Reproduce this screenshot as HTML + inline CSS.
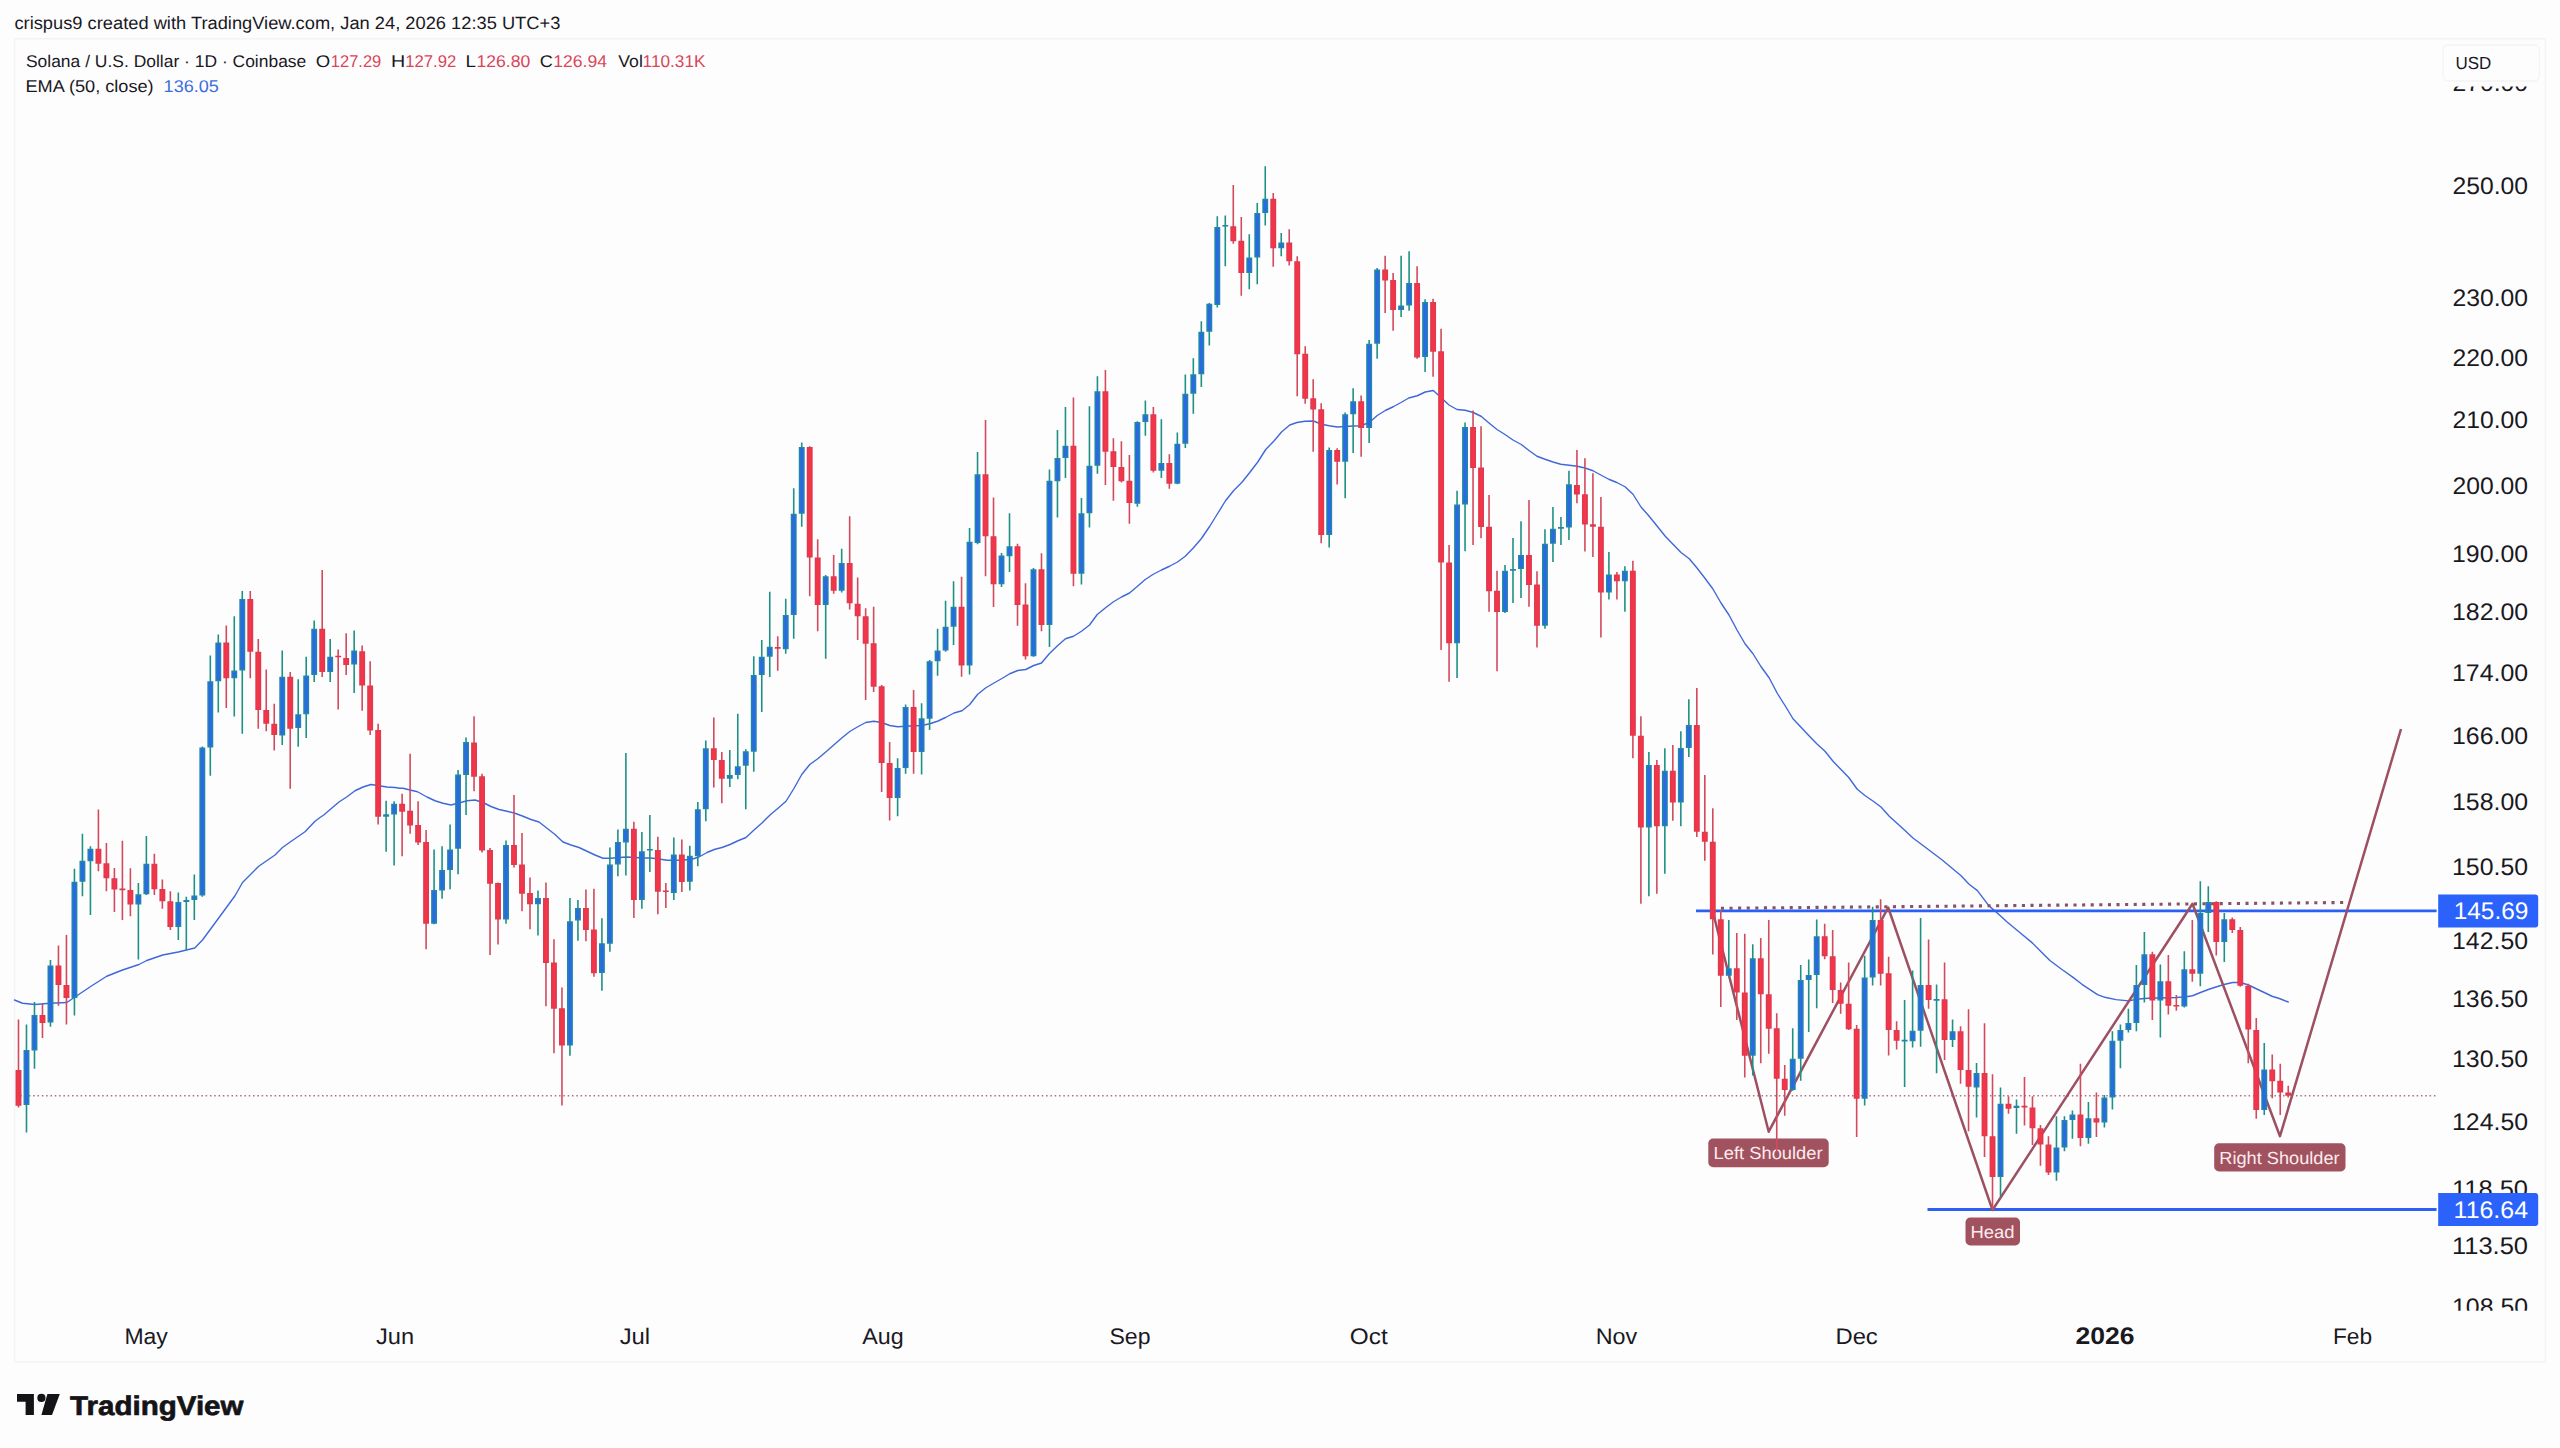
<!DOCTYPE html>
<html lang="en">
<head>
<meta charset="utf-8">
<title>SOLUSD chart - TradingView</title>
<style>
html,body{margin:0;padding:0;background:#fefdfe;}
body{width:2560px;height:1448px;overflow:hidden;font-family:"Liberation Sans",sans-serif;}
svg text{font-family:"Liberation Sans",sans-serif;white-space:pre;text-rendering:geometricPrecision;}
</style>
</head>
<body>
<svg width="2560" height="1448" viewBox="0 0 2560 1448" style="display:block" font-family="'Liberation Sans', sans-serif">
<defs><clipPath id="axclip"><rect x="2440" y="86.5" width="110" height="1224.3"/></clipPath></defs>
<rect x="0" y="0" width="2560" height="1448" fill="#fefdfe"/>
<rect x="14.6" y="38.8" width="2530.7" height="1323" fill="none" stroke="#f4f3f8" stroke-width="1.6"/>
<path d="M16 1095.7H2436" stroke="#ab6f80" stroke-width="1.5" stroke-dasharray="1.5 2.81" fill="none"/>
<g>
<path d="M14.5 1000 L22.5 1003.25 L35 1004.5 L50 1003.25 L66.75 1002.5 L75 997 L91 986.25 L106.75 976.25 L122.5 970 L139 964.5 L146.75 960.5 L162.75 955 L178.25 952 L194.75 948 L202.5 940 L220 916.25 L235 895.75 L242.5 882.5 L258.75 866.25 L275 855 L282.5 847.5 L291.25 841.25 L305 831.75 L315 821.25 L320 817.5 L323.75 815 L331 808.75 L339 802 L347 796.75 L355 790.75 L363 787 L371 784.5 L379 785.75 L387 787 L395 787.5 L400 788.25 L403 788.25 L410 790 L417.5 791.75 L427 797 L435 800.75 L443 803.25 L451 805 L459 803 L467 800.75 L475 800 L483 802.5 L491 806.5 L499 809.5 L507 811.25 L515 813.25 L523 816.25 L531 819.5 L539 822 L547 828.25 L555 834.5 L563 842 L571 845 L579 847.5 L587 851.25 L595 855 L603 858.25 L611 858.25 L619 857.5 L627 857 L635 857.5 L643 858 L651 858 L659 859 L667 860.25 L675 860.25 L683 860 L691 859.5 L699 857 L707 852.5 L715 849.25 L722 847.5 L730 844.5 L738 840.75 L746 837.5 L754 830 L762 823 L770 815 L778 808.25 L786 801.25 L793.75 788.75 L801.75 774.5 L809.75 764.5 L817.75 758.75 L825.75 752 L833.75 745 L841.75 738 L849.75 731.5 L857.75 726.75 L865.75 722.5 L873.75 721.25 L881.75 722.5 L889.75 725.5 L897.75 726.75 L905.75 726.25 L913.75 725.75 L921.75 725.5 L929.75 723.75 L937.5 721.25 L945.5 717.5 L954 713 L962 710.75 L969.75 704.5 L977.5 694.5 L985.5 688 L993.5 683.25 L1001.5 678.75 L1009.75 673.75 L1017.75 670.5 L1025.75 669.5 L1033.75 665.5 L1041.5 663 L1049.25 653.75 L1057.5 645.75 L1065.5 638.75 L1073.5 636.25 L1081.5 631.25 L1089.5 625 L1097.25 614.5 L1105.25 608 L1113.5 601.75 L1121.5 597 L1129.5 593 L1137.5 586.25 L1145.25 579.5 L1153.25 574.25 L1161.5 570 L1169.5 566.25 L1177.5 562 L1185.25 556.25 L1193.25 548 L1201.25 538.75 L1209.75 526.25 L1217.5 513.75 L1225.5 500.75 L1233.75 490.5 L1241.75 482.5 L1249.75 472.5 L1257.75 462 L1265.75 449.5 L1273.75 441.25 L1281.5 432 L1289.75 425 L1297 422.5 L1305 421.25 L1313.5 421 L1321.5 424.25 L1329.25 425.75 L1337.25 427 L1345 426.5 L1353 426 L1360.75 425.75 L1369.25 422.5 L1377.25 415.5 L1385.25 410.5 L1393.25 406.75 L1401 402.5 L1408.75 398 L1417.25 395.75 L1425.25 392 L1433.25 390.5 L1441 397.5 L1449 405 L1457 409.5 L1465.25 410.25 L1473.25 412.5 L1481 416.25 L1489 423 L1497 429.5 L1505 434.5 L1513 440 L1521.25 444.5 L1529 450.5 L1537 456.25 L1545 459.25 L1553 462 L1560.75 464.25 L1569.25 465.25 L1577.25 466.25 L1585 468 L1593 470.75 L1600.75 475 L1608.75 479.25 L1616.75 482.5 L1625 486.75 L1633 494.25 L1641 507 L1648.75 515.75 L1657.25 526.25 L1665.25 536.25 L1673.25 544.5 L1681 552.5 L1689.25 558.75 L1697 568 L1704.75 578 L1712.75 588.75 L1721 603 L1729 615 L1737 630 L1745 643.75 L1753 653.75 L1760.75 666.25 L1769.25 678 L1777.25 693.25 L1785 705.5 L1793 718.75 L1800.75 727 L1808.75 735.5 L1816.75 743.75 L1825 751.25 L1833 761.25 L1841 769.5 L1848.75 777.5 L1857.25 789.25 L1865.25 795.75 L1873.25 801.25 L1881 807 L1889.25 816.25 L1897 823.25 L1905.25 830.75 L1913.25 838.25 L1920 843.25 L1942.2 860 L1960.8 875.5 L1969.1 884.3 L1977.4 890.6 L1988.8 905.6 L1997 912.8 L2007.4 922.2 L2019.8 932.5 L2032.3 942.9 L2041.6 952.2 L2049.9 960.5 L2062.3 969.8 L2072.7 977.1 L2082 984.3 L2097.5 994.7 L2104.8 997.3 L2116 999.6 L2128.6 1000.9 L2136.75 999.25 L2144.5 998.5 L2152.25 998 L2160.25 998 L2168 997.75 L2176 997.5 L2184.5 997 L2192.5 995.75 L2200.5 992.5 L2208.25 989.5 L2216 987 L2224 984.5 L2232.5 982.5 L2240.5 982.5 L2248.5 985 L2256.25 988.75 L2264.25 992.5 L2272 996.25 L2280 998.75 L2288.25 1002" stroke="#3f68d8" stroke-width="1.4" fill="none" stroke-linejoin="round" stroke-linecap="round"/>

<path d="M1720.9 908.3L2343.3 902.5" stroke="#8a5163" stroke-width="3.1" stroke-dasharray="3.1 5.5" fill="none"/>
<path d="M1696 910.9H2436.6" stroke="#2b61f2" stroke-width="2.9" fill="none"/>
<path d="M1927.5 1209.5H2436.6" stroke="#2b61f2" stroke-width="2.9" fill="none"/>
<path d="M1712.7 911.2L1768.7 1131.7L1888.2 907.5L1992.5 1210L2192.5 903.7L2280 1136.2L2401 729" stroke="#9d5061" stroke-width="2.5" fill="none" stroke-linejoin="round" stroke-linecap="butt"/>
<rect x="1708.3" y="1138.5" width="120.4" height="28.7" rx="4.8" ry="4.8" fill="#a1525f"/>
<rect x="2214.2" y="1143.3" width="131.3" height="28.2" rx="4.8" ry="4.8" fill="#a1525f"/>
<rect x="1965.5" y="1217.5" width="54.5" height="28" rx="4.8" ry="4.8" fill="#a1525f"/>
<text x="1713.57" y="1159.15" font-size="17.5" fill="#fdebee" textLength="109.02" lengthAdjust="spacingAndGlyphs">Left Shoulder</text>
<text x="2219.33" y="1163.7" font-size="17.5" fill="#fdebee" textLength="120.26" lengthAdjust="spacingAndGlyphs">Right Shoulder</text>
<text x="1970.46" y="1237.8" font-size="17.5" fill="#fdebee" textLength="44.18" lengthAdjust="spacingAndGlyphs">Head</text>
<path d="M18.5 1019.5V1107.5M42.48 1003.75V1038M58.46 945.5V1005.75M66.45 935V1024.5M98.42 809.5V871.25M106.41 843V891.25M114.4 868V912M122.4 840.75V920M130.39 868.25V916.25M154.36 853.75V895M162.36 879.5V908.75M170.35 891.25V930M226.29 625.5V708M250.27 591V678.25M258.26 639V728.75M266.25 669.5V731.25M274.24 703.75V750.5M290.23 672V788.75M322.2 570V677M338.18 649.5V709.5M346.17 633.25V675M362.16 645.5V710.75M370.15 661.25V735M378.14 723.75V824.5M402.12 793.75V856.25M410.11 753.75V833.75M418.1 801.25V845M426.09 830V949.25M474.04 716.25V791.25M482.04 773.75V852.5M490.03 848V955M498.02 882.5V944.5M514 795V867.5M522 833V911.25M529.99 877.5V929.25M545.97 882.5V1006.25M553.96 939.25V1053.25M561.96 987.5V1105.5M585.93 889.5V941.25M593.92 888.75V976.75M633.88 821.75V918M657.86 836.75V914.25M665.85 883V908M681.84 839.5V892M713.8 717.5V787.5M721.8 752V803.25M777.74 636.25V670.75M809.71 446.25V596.25M817.7 539.25V631.25M833.68 555V593.75M849.67 516.25V609.5M857.66 577.5V640M865.65 608.25V700M873.64 606.75V692M881.64 685V792M889.63 742V820.5M913.6 690V773.75M961.56 576.75V676.75M985.53 420V576.25M993.52 497.5V607M1017.5 543.75V625.75M1025.49 583.25V659.5M1041.48 553.25V631.25M1073.44 397.5V586.25M1105.41 370V485M1113.4 438.25V500.75M1121.4 441.25V482.5M1129.39 455V523.75M1153.36 407V472.5M1169.35 454.25V488.75M1233.28 185V243.75M1241.28 217V295.75M1273.24 193V266.75M1289.23 229.25V265.5M1297.22 256.25V396.25M1305.21 346.25V403.75M1313.2 379.25V451.75M1321.2 403.25V543.25M1337.18 448.25V484.5M1361.16 395.5V456.75M1385.13 255.75V313M1393.12 273V330.75M1417.1 266.25V358.75M1433.08 298.75V376.75M1441.08 328.75V650M1449.07 545V681.75M1473.04 410.5V545M1481.04 426.25V538.25M1489.03 495V611.75M1497.02 570.75V671.25M1528.99 500V606.75M1536.98 571.25V647.5M1576.94 450V503.25M1584.93 458.25V551.5M1592.92 473.25V557M1600.92 497V637.5M1616.9 572V599.5M1632.88 560.75V758.25M1640.88 716.25V903.75M1656.86 760V893.75M1672.84 745V820.75M1696.82 688V837M1704.81 775V860.75M1712.8 808.25V954.5M1720.8 910V1007M1736.78 933V1020M1744.77 933.75V1077.5M1760.76 938V1063.25M1768.75 920V1053.75M1776.74 1013.25V1151.25M1784.73 1065V1115.75M1824.69 923.75V959.25M1832.68 930V1003M1840.68 982.5V1013.75M1848.67 962.5V1030M1856.66 1025V1137M1880.64 899.25V985.5M1888.63 956.75V1055.5M1896.62 1021.25V1049.5M1928.59 939.5V1008.75M1944.57 962.5V1060M1960.56 1026.25V1083.75M1968.55 1009.25V1131.25M1984.53 1023.25V1157M1992.52 1074.25V1210M2008.51 1096.25V1113.75M2024.49 1077V1125.5M2032.48 1096.25V1145M2040.48 1125V1165.75M2048.47 1136.25V1175M2080.44 1063.75V1146.25M2096.42 1092.5V1137M2152.36 951.75V1020M2168.35 955V1014.5M2176.34 995V1010.75M2192.32 920V981.75M2216.3 901.25V955.5M2232.28 917.5V933M2240.28 927V986.75M2248.27 983.75V1063.25M2256.26 1018V1118.75M2272.24 1054.5V1098.25M2280.24 1063.75V1115M2288.23 1085.75V1097.5" stroke="#d24a5e" stroke-width="1.6" fill="none"/>
<path d="M26.49 1024.5V1132.5M34.48 1002V1068.75M50.47 960V1026.75M74.44 868.75V1015.5M82.44 833.75V896.25M90.43 846.25V915M138.38 883V959.5M146.37 836V895M178.34 892.5V940M186.33 896.75V950M194.32 874.5V920M202.32 746.5V896.75M210.31 655.5V775.75M218.3 634.5V712.5M234.28 616.25V716.5M242.28 591V733.75M282.24 650.5V745M298.22 679.25V746.75M306.21 656.75V738M314.2 620.5V682M330.19 639V682M354.16 630.5V693M386.13 800.75V851.75M394.12 801.25V865.5M434.08 849.5V924.25M442.08 846.25V898.75M450.07 824.5V889.25M458.06 770V874.25M466.05 737.5V815M506.01 840.5V923.75M537.98 890.5V935.5M569.95 898V1055.75M577.94 900V940.75M601.92 918.25V990.75M609.91 847.5V951.75M617.9 829.5V876.25M625.89 753V875.5M641.88 832V908.75M649.87 815V872M673.84 837.5V900M689.83 845.75V890.5M697.82 802V866.25M705.81 740.5V821.25M729.79 750V787M737.78 713.75V779.25M745.77 749.25V809.25M753.76 656.25V771.75M761.76 640V712M769.75 591.75V677M785.73 598.75V653.75M793.72 488.25V638.75M801.72 442.5V526.75M825.69 575V658.75M841.68 548.75V592.5M897.62 758.25V816.25M905.61 704.5V773.75M921.6 703.25V774.5M929.59 660V730M937.58 628.75V675.75M945.57 600.75V651.75M953.56 581.25V645M969.55 528V674.5M977.54 452V544.25M1001.52 553V587M1009.51 513.25V572M1033.48 568V656.75M1049.47 469.5V647M1057.46 430V517.5M1065.45 407V478M1081.44 498V584.5M1089.43 406.25V527.5M1097.42 376.25V473.75M1137.38 421.25V506.75M1145.37 400.5V435.75M1161.36 419.25V478M1177.34 432.5V484.25M1185.33 374.5V448M1193.32 358.25V413.75M1201.32 321.25V387M1209.31 303V345.5M1217.3 216.25V307.5M1225.29 215.5V266.25M1249.27 234.25V289.25M1257.26 203V284.25M1265.25 166.25V225.5M1281.24 233V256.25M1329.19 447.5V547.5M1345.17 412.5V498.25M1353.16 388.25V453M1369.15 340V443M1377.14 268V358.75M1401.12 255.75V317M1409.11 251.25V310.75M1425.09 299.25V372M1457.06 490.75V678M1465.05 422.5V551.25M1505.01 565V613M1513 538V603M1521 521.25V598M1544.97 529.25V628.75M1552.96 507V562M1560.96 517V545M1568.95 470.75V540M1608.91 552V599.5M1624.89 566.25V611.75M1648.87 752V896.25M1664.85 748.25V873.75M1680.84 731.25V826.25M1688.83 699.25V757M1728.79 920V977.5M1752.76 944.25V1075.5M1792.72 1028.25V1090.75M1800.72 965V1080.75M1808.71 959.5V1032M1816.7 919.5V1008.25M1864.65 955.75V1105.5M1872.64 906.75V985.5M1904.61 1000V1087M1912.6 970.5V1047.5M1920.6 918V1046.75M1936.58 984.5V1073.25M1952.56 1019.5V1047M1976.54 1063V1117.5M2000.52 1087.5V1196.25M2016.5 1099.5V1133.75M2056.46 1116.25V1180.75M2064.45 1116.25V1151.25M2072.44 1110.5V1138.75M2088.43 1102V1143.75M2104.41 1095V1127.5M2112.4 1031.25V1109.5M2120.4 1024.5V1068.25M2128.39 1008.75V1032.5M2136.38 965V1031.25M2144.37 932V1002.5M2160.36 964.5V1037.5M2184.33 951.25V1007.5M2200.32 881.25V986.25M2208.31 886.25V932M2224.29 913V962M2264.25 1043V1115" stroke="#1f9184" stroke-width="1.6" fill="none"/>
<path d="M15.55 1070h5.9V1105.75h-5.9zM39.53 1015h5.9V1023h-5.9zM55.51 965.5h5.9V985h-5.9zM63.5 985h5.9V998h-5.9zM95.47 848.75h5.9V863.75h-5.9zM103.46 863.25h5.9V878.25h-5.9zM111.45 878.25h5.9V889.5h-5.9zM119.45 888.58h5.9V890.17h-5.9zM127.44 890h5.9V904.5h-5.9zM151.41 863.75h5.9V889.25h-5.9zM159.41 889h5.9V901.25h-5.9zM167.4 901.25h5.9V927h-5.9zM223.34 642.5h5.9V678.25h-5.9zM247.32 599h5.9V651.75h-5.9zM255.31 651.75h5.9V710h-5.9zM263.3 710h5.9V723.75h-5.9zM271.29 723.75h5.9V735h-5.9zM287.28 676.75h5.9V728.75h-5.9zM319.25 628.75h5.9V672h-5.9zM335.23 655.7h5.9V657.3h-5.9zM343.22 658h5.9V665h-5.9zM359.21 651.25h5.9V685.5h-5.9zM367.2 685.5h5.9V730.5h-5.9zM375.19 730h5.9V816.75h-5.9zM399.17 803.75h5.9V811.75h-5.9zM407.16 810.75h5.9V825.5h-5.9zM415.15 825h5.9V842.5h-5.9zM423.14 842h5.9V923.75h-5.9zM471.09 742.5h5.9V776.75h-5.9zM479.09 776.25h5.9V850.5h-5.9zM487.08 850h5.9V883.75h-5.9zM495.07 883h5.9V919.5h-5.9zM511.05 845h5.9V865h-5.9zM519.05 864.5h5.9V893.75h-5.9zM527.04 893h5.9V904.25h-5.9zM543.02 898h5.9V963h-5.9zM551.01 962.5h5.9V1008.75h-5.9zM559.01 1008.25h5.9V1045.5h-5.9zM582.98 908h5.9V930h-5.9zM590.97 929.5h5.9V973.25h-5.9zM630.93 828.75h5.9V900h-5.9zM654.91 850h5.9V891.75h-5.9zM662.9 890.45h5.9V892.05h-5.9zM678.89 854.5h5.9V882h-5.9zM710.85 748.25h5.9V760h-5.9zM718.85 760h5.9V778.75h-5.9zM774.79 647h5.9V648.75h-5.9zM806.76 447h5.9V557.5h-5.9zM814.75 557.5h5.9V605h-5.9zM830.73 576.25h5.9V590.75h-5.9zM846.72 563h5.9V603.25h-5.9zM854.71 603.75h5.9V616.25h-5.9zM862.7 616.25h5.9V643.75h-5.9zM870.69 643.25h5.9V686.75h-5.9zM878.69 686.25h5.9V763h-5.9zM886.68 763h5.9V798h-5.9zM910.65 707h5.9V752h-5.9zM958.61 606.75h5.9V665.5h-5.9zM982.58 474.25h5.9V536.25h-5.9zM990.57 536.25h5.9V584.25h-5.9zM1014.55 546.25h5.9V605h-5.9zM1022.54 604.5h5.9V656.25h-5.9zM1038.53 569.25h5.9V625h-5.9zM1070.49 445.75h5.9V573.75h-5.9zM1102.46 391.25h5.9V451.75h-5.9zM1110.45 451.25h5.9V467h-5.9zM1118.45 467h5.9V481.25h-5.9zM1126.44 480.75h5.9V503h-5.9zM1150.41 414.25h5.9V470.75h-5.9zM1166.4 463h5.9V483.75h-5.9zM1230.33 226.25h5.9V241.25h-5.9zM1238.33 240.75h5.9V273h-5.9zM1270.29 198.75h5.9V248.25h-5.9zM1286.28 242.5h5.9V261.25h-5.9zM1294.27 261.25h5.9V354.25h-5.9zM1302.26 353.75h5.9V398.75h-5.9zM1310.25 398.25h5.9V409.5h-5.9zM1318.25 409.25h5.9V535h-5.9zM1334.23 450h5.9V461.75h-5.9zM1358.21 401.25h5.9V428h-5.9zM1382.18 269.5h5.9V280.5h-5.9zM1390.17 280h5.9V310h-5.9zM1414.15 283h5.9V357.5h-5.9zM1430.13 302h5.9V351.75h-5.9zM1438.13 351.25h5.9V562.5h-5.9zM1446.12 562.5h5.9V643.25h-5.9zM1470.09 427h5.9V468h-5.9zM1478.09 467.5h5.9V527h-5.9zM1486.08 526.75h5.9V591.25h-5.9zM1494.07 590.75h5.9V612h-5.9zM1526.04 555h5.9V585h-5.9zM1534.03 584.5h5.9V625.75h-5.9zM1573.99 485h5.9V494.5h-5.9zM1581.98 494.25h5.9V524.5h-5.9zM1589.97 524.25h5.9V526.75h-5.9zM1597.97 526.75h5.9V592.5h-5.9zM1613.95 574.5h5.9V581.25h-5.9zM1629.93 570.75h5.9V735.75h-5.9zM1637.93 735.75h5.9V827.5h-5.9zM1653.91 765h5.9V826.25h-5.9zM1669.89 770.75h5.9V802.5h-5.9zM1693.87 725h5.9V831.75h-5.9zM1701.86 831.75h5.9V841.75h-5.9zM1709.85 841.75h5.9V919.25h-5.9zM1717.85 919.25h5.9V975.75h-5.9zM1733.83 968.25h5.9V992.5h-5.9zM1741.82 992.5h5.9V1055.75h-5.9zM1757.81 958.25h5.9V994.25h-5.9zM1765.8 994.25h5.9V1028.75h-5.9zM1773.79 1028.25h5.9V1078.75h-5.9zM1781.78 1078.75h5.9V1090h-5.9zM1821.74 936.25h5.9V956.25h-5.9zM1829.73 956.25h5.9V990h-5.9zM1837.73 990h5.9V1003.75h-5.9zM1845.72 1003.75h5.9V1029.25h-5.9zM1853.71 1028.75h5.9V1098.75h-5.9zM1877.69 920h5.9V973.75h-5.9zM1885.68 973.25h5.9V1030h-5.9zM1893.67 1030h5.9V1040.75h-5.9zM1925.64 985h5.9V1000h-5.9zM1941.62 999.25h5.9V1040h-5.9zM1957.61 1031.25h5.9V1070h-5.9zM1965.6 1070h5.9V1086.75h-5.9zM1981.58 1073h5.9V1136.25h-5.9zM1989.57 1136.25h5.9V1177h-5.9zM2005.56 1103.75h5.9V1108.75h-5.9zM2021.54 1105.75h5.9V1107.5h-5.9zM2029.53 1107.5h5.9V1128.25h-5.9zM2037.53 1128.25h5.9V1144.5h-5.9zM2045.52 1144.5h5.9V1172.5h-5.9zM2077.49 1114.5h5.9V1138h-5.9zM2093.47 1118.25h5.9V1122.5h-5.9zM2149.41 954.25h5.9V1000.5h-5.9zM2165.4 981.25h5.9V1005.75h-5.9zM2173.39 1004.95h5.9V1006.55h-5.9zM2189.37 969.25h5.9V973.75h-5.9zM2213.35 902h5.9V942h-5.9zM2229.33 919.25h5.9V930h-5.9zM2237.33 930h5.9V985.75h-5.9zM2245.32 985.75h5.9V1029.5h-5.9zM2253.31 1030h5.9V1110h-5.9zM2269.29 1069.5h5.9V1081.25h-5.9zM2277.29 1080.75h5.9V1092.5h-5.9zM2285.28 1092.5h5.9V1095.75h-5.9z" fill="#de3a4f"/>
<path d="M16.8 1071.2h3.4V1104.55h-3.4zM40.78 1016.2h3.4V1021.8h-3.4zM56.76 966.7h3.4V983.8h-3.4zM64.75 986.2h3.4V996.8h-3.4zM96.72 849.95h3.4V862.55h-3.4zM104.71 864.45h3.4V877.05h-3.4zM112.7 879.45h3.4V888.3h-3.4zM128.69 891.2h3.4V903.3h-3.4zM152.66 864.95h3.4V888.05h-3.4zM160.66 890.2h3.4V900.05h-3.4zM168.65 902.45h3.4V925.8h-3.4zM224.59 643.7h3.4V677.05h-3.4zM248.57 600.2h3.4V650.55h-3.4zM256.56 652.95h3.4V708.8h-3.4zM264.55 711.2h3.4V722.55h-3.4zM272.54 724.95h3.4V733.8h-3.4zM288.53 677.95h3.4V727.55h-3.4zM320.5 629.95h3.4V670.8h-3.4zM344.47 659.2h3.4V663.8h-3.4zM360.46 652.45h3.4V684.3h-3.4zM368.45 686.7h3.4V729.3h-3.4zM376.44 731.2h3.4V815.55h-3.4zM400.42 804.95h3.4V810.55h-3.4zM408.41 811.95h3.4V824.3h-3.4zM416.4 826.2h3.4V841.3h-3.4zM424.39 843.2h3.4V922.55h-3.4zM472.34 743.7h3.4V775.55h-3.4zM480.34 777.45h3.4V849.3h-3.4zM488.33 851.2h3.4V882.55h-3.4zM496.32 884.2h3.4V918.3h-3.4zM512.3 846.2h3.4V863.8h-3.4zM520.3 865.7h3.4V892.55h-3.4zM528.29 894.2h3.4V903.05h-3.4zM544.27 899.2h3.4V961.8h-3.4zM552.26 963.7h3.4V1007.55h-3.4zM560.26 1009.45h3.4V1044.3h-3.4zM584.23 909.2h3.4V928.8h-3.4zM592.22 930.7h3.4V972.05h-3.4zM632.18 829.95h3.4V898.8h-3.4zM656.16 851.2h3.4V890.55h-3.4zM680.14 855.7h3.4V880.8h-3.4zM712.1 749.45h3.4V758.8h-3.4zM720.1 761.2h3.4V777.55h-3.4zM808.01 448.2h3.4V556.3h-3.4zM816 558.7h3.4V603.8h-3.4zM831.98 577.45h3.4V589.55h-3.4zM847.97 564.2h3.4V602.05h-3.4zM855.96 604.95h3.4V615.05h-3.4zM863.95 617.45h3.4V642.55h-3.4zM871.94 644.45h3.4V685.55h-3.4zM879.94 687.45h3.4V761.8h-3.4zM887.93 764.2h3.4V796.8h-3.4zM911.9 708.2h3.4V750.8h-3.4zM959.86 607.95h3.4V664.3h-3.4zM983.83 475.45h3.4V535.05h-3.4zM991.82 537.45h3.4V583.05h-3.4zM1015.8 547.45h3.4V603.8h-3.4zM1023.79 605.7h3.4V655.05h-3.4zM1039.78 570.45h3.4V623.8h-3.4zM1071.74 446.95h3.4V572.55h-3.4zM1103.71 392.45h3.4V450.55h-3.4zM1111.7 452.45h3.4V465.8h-3.4zM1119.7 468.2h3.4V480.05h-3.4zM1127.69 481.95h3.4V501.8h-3.4zM1151.66 415.45h3.4V469.55h-3.4zM1167.65 464.2h3.4V482.55h-3.4zM1231.58 227.45h3.4V240.05h-3.4zM1239.58 241.95h3.4V271.8h-3.4zM1271.54 199.95h3.4V247.05h-3.4zM1287.53 243.7h3.4V260.05h-3.4zM1295.52 262.45h3.4V353.05h-3.4zM1303.51 354.95h3.4V397.55h-3.4zM1311.5 399.45h3.4V408.3h-3.4zM1319.5 410.45h3.4V533.8h-3.4zM1335.48 451.2h3.4V460.55h-3.4zM1359.46 402.45h3.4V426.8h-3.4zM1383.43 270.7h3.4V279.3h-3.4zM1391.42 281.2h3.4V308.8h-3.4zM1415.4 284.2h3.4V356.3h-3.4zM1431.38 303.2h3.4V350.55h-3.4zM1439.38 352.45h3.4V561.3h-3.4zM1447.37 563.7h3.4V642.05h-3.4zM1471.34 428.2h3.4V466.8h-3.4zM1479.34 468.7h3.4V525.8h-3.4zM1487.33 527.95h3.4V590.05h-3.4zM1495.32 591.95h3.4V610.8h-3.4zM1527.29 556.2h3.4V583.8h-3.4zM1535.28 585.7h3.4V624.55h-3.4zM1575.24 486.2h3.4V493.3h-3.4zM1583.23 495.45h3.4V523.3h-3.4zM1599.22 527.95h3.4V591.3h-3.4zM1615.2 575.7h3.4V580.05h-3.4zM1631.18 571.95h3.4V734.55h-3.4zM1639.18 736.95h3.4V826.3h-3.4zM1655.16 766.2h3.4V825.05h-3.4zM1671.14 771.95h3.4V801.3h-3.4zM1695.12 726.2h3.4V830.55h-3.4zM1703.11 832.95h3.4V840.55h-3.4zM1711.1 842.95h3.4V918.05h-3.4zM1719.1 920.45h3.4V974.55h-3.4zM1735.08 969.45h3.4V991.3h-3.4zM1743.07 993.7h3.4V1054.55h-3.4zM1759.06 959.45h3.4V993.05h-3.4zM1767.05 995.45h3.4V1027.55h-3.4zM1775.04 1029.45h3.4V1077.55h-3.4zM1783.03 1079.95h3.4V1088.8h-3.4zM1822.99 937.45h3.4V955.05h-3.4zM1830.98 957.45h3.4V988.8h-3.4zM1838.98 991.2h3.4V1002.55h-3.4zM1846.97 1004.95h3.4V1028.05h-3.4zM1854.96 1029.95h3.4V1097.55h-3.4zM1878.94 921.2h3.4V972.55h-3.4zM1886.93 974.45h3.4V1028.8h-3.4zM1894.92 1031.2h3.4V1039.55h-3.4zM1926.89 986.2h3.4V998.8h-3.4zM1942.87 1000.45h3.4V1038.8h-3.4zM1958.86 1032.45h3.4V1068.8h-3.4zM1966.85 1071.2h3.4V1085.55h-3.4zM1982.83 1074.2h3.4V1135.05h-3.4zM1990.82 1137.45h3.4V1175.8h-3.4zM2006.81 1104.95h3.4V1107.55h-3.4zM2030.78 1108.7h3.4V1127.05h-3.4zM2038.78 1129.45h3.4V1143.3h-3.4zM2046.77 1145.7h3.4V1171.3h-3.4zM2078.74 1115.7h3.4V1136.8h-3.4zM2094.72 1119.45h3.4V1121.3h-3.4zM2150.66 955.45h3.4V999.3h-3.4zM2166.65 982.45h3.4V1004.55h-3.4zM2190.62 970.45h3.4V972.55h-3.4zM2214.6 903.2h3.4V940.8h-3.4zM2230.58 920.45h3.4V928.8h-3.4zM2238.58 931.2h3.4V984.55h-3.4zM2246.57 986.95h3.4V1028.3h-3.4zM2254.56 1031.2h3.4V1108.8h-3.4zM2270.54 1070.7h3.4V1080.05h-3.4zM2278.54 1081.95h3.4V1091.3h-3.4zM2286.53 1093.7h3.4V1094.55h-3.4z" fill="#f23548"/>
<path d="M23.54 1050h5.9V1105h-5.9zM31.53 1015h5.9V1050.5h-5.9zM47.52 965.5h5.9V1022.5h-5.9zM71.49 881.75h5.9V998h-5.9zM79.49 860.75h5.9V881.75h-5.9zM87.48 848.75h5.9V861.25h-5.9zM135.43 894.25h5.9V904.5h-5.9zM143.42 863.75h5.9V894.25h-5.9zM175.39 902h5.9V927h-5.9zM183.38 900h5.9V902h-5.9zM191.37 895.5h5.9V900h-5.9zM199.37 747.5h5.9V895.5h-5.9zM207.36 681.25h5.9V747.5h-5.9zM215.35 642.5h5.9V681.25h-5.9zM231.33 670.5h5.9V678.25h-5.9zM239.33 599h5.9V670.5h-5.9zM279.29 676.75h5.9V735.5h-5.9zM295.27 714.25h5.9V728h-5.9zM303.26 675.5h5.9V714.25h-5.9zM311.25 628.75h5.9V675h-5.9zM327.24 656.75h5.9V672h-5.9zM351.21 650.5h5.9V664.5h-5.9zM383.18 814.25h5.9V816.75h-5.9zM391.17 803.75h5.9V814.5h-5.9zM431.13 890h5.9V923.75h-5.9zM439.13 870h5.9V890.5h-5.9zM447.12 849.5h5.9V870h-5.9zM455.11 774.5h5.9V848.75h-5.9zM463.1 742h5.9V775h-5.9zM503.06 845h5.9V919.5h-5.9zM535.03 898h5.9V904.25h-5.9zM567 921.25h5.9V1045.5h-5.9zM574.99 908h5.9V920.5h-5.9zM598.97 943.25h5.9V973h-5.9zM606.96 864.5h5.9V943.75h-5.9zM614.95 842h5.9V864.5h-5.9zM622.94 828.75h5.9V842.5h-5.9zM638.93 851.25h5.9V900h-5.9zM646.92 848.95h5.9V850.55h-5.9zM670.89 854.5h5.9V893h-5.9zM686.88 855.75h5.9V881.75h-5.9zM694.87 809.25h5.9V856.25h-5.9zM702.86 748.25h5.9V809.25h-5.9zM726.84 775h5.9V778.75h-5.9zM734.83 766.25h5.9V775h-5.9zM742.82 751.25h5.9V765.75h-5.9zM750.81 675h5.9V751.75h-5.9zM758.81 656.75h5.9V675h-5.9zM766.8 646.75h5.9V656.75h-5.9zM782.78 615h5.9V649.25h-5.9zM790.77 513.75h5.9V615h-5.9zM798.77 447h5.9V513.75h-5.9zM822.74 576.25h5.9V605h-5.9zM838.73 563h5.9V590.75h-5.9zM894.67 768h5.9V798h-5.9zM902.66 707h5.9V768h-5.9zM918.65 718.25h5.9V752h-5.9zM926.64 661.25h5.9V718.75h-5.9zM934.63 650.5h5.9V661.25h-5.9zM942.62 626.75h5.9V650.5h-5.9zM950.61 606.75h5.9V626.75h-5.9zM966.6 541.75h5.9V665.5h-5.9zM974.59 474.25h5.9V543h-5.9zM998.57 555.5h5.9V584.25h-5.9zM1006.56 546.25h5.9V556.25h-5.9zM1030.53 569.25h5.9V656.25h-5.9zM1046.52 480.75h5.9V625h-5.9zM1054.51 458h5.9V481.25h-5.9zM1062.5 445.75h5.9V458h-5.9zM1078.49 513.25h5.9V573.75h-5.9zM1086.48 465.75h5.9V513.25h-5.9zM1094.47 391.25h5.9V465.75h-5.9zM1134.43 422h5.9V503.75h-5.9zM1142.42 414.25h5.9V422h-5.9zM1158.41 463h5.9V470.75h-5.9zM1174.39 443.75h5.9V483.75h-5.9zM1182.38 393.75h5.9V443.75h-5.9zM1190.37 374.25h5.9V393.75h-5.9zM1198.37 331.75h5.9V374.25h-5.9zM1206.36 303.75h5.9V331.75h-5.9zM1214.35 227h5.9V305h-5.9zM1222.34 224.95h5.9V226.55h-5.9zM1246.32 257.5h5.9V273h-5.9zM1254.31 213h5.9V257.5h-5.9zM1262.3 198.75h5.9V213h-5.9zM1278.29 242.5h5.9V248.25h-5.9zM1326.24 450h5.9V535h-5.9zM1342.22 414.25h5.9V461.75h-5.9zM1350.21 401.25h5.9V414.25h-5.9zM1366.2 343.75h5.9V428h-5.9zM1374.19 269.5h5.9V343.75h-5.9zM1398.17 305.5h5.9V310h-5.9zM1406.16 283h5.9V305.5h-5.9zM1422.14 302h5.9V357h-5.9zM1454.11 504.5h5.9V643.25h-5.9zM1462.1 427h5.9V504.5h-5.9zM1502.06 570.75h5.9V612h-5.9zM1510.05 569h5.9V570.75h-5.9zM1518.05 555h5.9V569h-5.9zM1542.02 543.75h5.9V625.75h-5.9zM1550.01 528.75h5.9V543.75h-5.9zM1558.01 527h5.9V528.75h-5.9zM1566 484.25h5.9V527.5h-5.9zM1605.96 574.5h5.9V592.5h-5.9zM1621.94 570.75h5.9V581.25h-5.9zM1645.92 765h5.9V827.5h-5.9zM1661.9 770.75h5.9V826.25h-5.9zM1677.89 748h5.9V802.5h-5.9zM1685.88 725h5.9V748h-5.9zM1725.84 968.25h5.9V975.75h-5.9zM1749.81 958.25h5.9V1055.75h-5.9zM1789.77 1058.75h5.9V1090h-5.9zM1797.77 980h5.9V1058.75h-5.9zM1805.76 975h5.9V980h-5.9zM1813.75 936.25h5.9V975h-5.9zM1861.7 977.5h5.9V1098.75h-5.9zM1869.69 920h5.9V977.5h-5.9zM1901.66 1039.83h5.9V1041.42h-5.9zM1909.65 1030.75h5.9V1041.25h-5.9zM1917.65 985h5.9V1030.75h-5.9zM1933.63 999.08h5.9V1000.67h-5.9zM1949.61 1031.25h5.9V1040h-5.9zM1973.59 1073h5.9V1087.5h-5.9zM1997.57 1103.75h5.9V1177h-5.9zM2013.55 1105.75h5.9V1108h-5.9zM2053.51 1147.5h5.9V1172.5h-5.9zM2061.5 1120h5.9V1147.5h-5.9zM2069.49 1114.5h5.9V1120h-5.9zM2085.48 1118.25h5.9V1138h-5.9zM2101.46 1097.5h5.9V1122.5h-5.9zM2109.45 1040.75h5.9V1097.5h-5.9zM2117.45 1030h5.9V1040.75h-5.9zM2125.44 1023h5.9V1030h-5.9zM2133.43 985h5.9V1023h-5.9zM2141.42 954.25h5.9V985h-5.9zM2157.41 981.25h5.9V1000.5h-5.9zM2181.38 969.25h5.9V1006.5h-5.9zM2197.37 913h5.9V973.75h-5.9zM2205.36 902h5.9V913h-5.9zM2221.34 919.25h5.9V942h-5.9zM2261.3 1069.5h5.9V1110h-5.9z" fill="#2086aa"/>
<path d="M25.04 1051.5h2.9V1103.5h-2.9zM33.03 1016.5h2.9V1049h-2.9zM49.02 967h2.9V1021h-2.9zM72.99 883.25h2.9V996.5h-2.9zM80.99 862.25h2.9V880.25h-2.9zM88.98 850.25h2.9V859.75h-2.9zM136.93 895.75h2.9V903h-2.9zM144.92 865.25h2.9V892.75h-2.9zM176.89 903.5h2.9V925.5h-2.9zM192.87 897h2.9V898.5h-2.9zM200.87 749h2.9V894h-2.9zM208.86 682.75h2.9V746h-2.9zM216.85 644h2.9V679.75h-2.9zM232.83 672h2.9V676.75h-2.9zM240.83 600.5h2.9V669h-2.9zM280.79 678.25h2.9V734h-2.9zM296.77 715.75h2.9V726.5h-2.9zM304.76 677h2.9V712.75h-2.9zM312.75 630.25h2.9V673.5h-2.9zM328.74 658.25h2.9V670.5h-2.9zM352.71 652h2.9V663h-2.9zM392.67 805.25h2.9V813h-2.9zM432.63 891.5h2.9V922.25h-2.9zM440.63 871.5h2.9V889h-2.9zM448.62 851h2.9V868.5h-2.9zM456.61 776h2.9V847.25h-2.9zM464.6 743.5h2.9V773.5h-2.9zM504.56 846.5h2.9V918h-2.9zM536.53 899.5h2.9V902.75h-2.9zM568.5 922.75h2.9V1044h-2.9zM576.49 909.5h2.9V919h-2.9zM600.47 944.75h2.9V971.5h-2.9zM608.46 866h2.9V942.25h-2.9zM616.45 843.5h2.9V863h-2.9zM624.44 830.25h2.9V841h-2.9zM640.43 852.75h2.9V898.5h-2.9zM672.39 856h2.9V891.5h-2.9zM688.38 857.25h2.9V880.25h-2.9zM696.37 810.75h2.9V854.75h-2.9zM704.36 749.75h2.9V807.75h-2.9zM728.34 776.5h2.9V777.25h-2.9zM736.33 767.75h2.9V773.5h-2.9zM744.32 752.75h2.9V764.25h-2.9zM752.31 676.5h2.9V750.25h-2.9zM760.31 658.25h2.9V673.5h-2.9zM768.3 648.25h2.9V655.25h-2.9zM784.28 616.5h2.9V647.75h-2.9zM792.27 515.25h2.9V613.5h-2.9zM800.27 448.5h2.9V512.25h-2.9zM824.24 577.75h2.9V603.5h-2.9zM840.23 564.5h2.9V589.25h-2.9zM896.17 769.5h2.9V796.5h-2.9zM904.16 708.5h2.9V766.5h-2.9zM920.15 719.75h2.9V750.5h-2.9zM928.14 662.75h2.9V717.25h-2.9zM936.13 652h2.9V659.75h-2.9zM944.12 628.25h2.9V649h-2.9zM952.11 608.25h2.9V625.25h-2.9zM968.1 543.25h2.9V664h-2.9zM976.09 475.75h2.9V541.5h-2.9zM1000.07 557h2.9V582.75h-2.9zM1008.06 547.75h2.9V554.75h-2.9zM1032.03 570.75h2.9V654.75h-2.9zM1048.02 482.25h2.9V623.5h-2.9zM1056.01 459.5h2.9V479.75h-2.9zM1064 447.25h2.9V456.5h-2.9zM1079.99 514.75h2.9V572.25h-2.9zM1087.98 467.25h2.9V511.75h-2.9zM1095.97 392.75h2.9V464.25h-2.9zM1135.93 423.5h2.9V502.25h-2.9zM1143.92 415.75h2.9V420.5h-2.9zM1159.91 464.5h2.9V469.25h-2.9zM1175.89 445.25h2.9V482.25h-2.9zM1183.88 395.25h2.9V442.25h-2.9zM1191.87 375.75h2.9V392.25h-2.9zM1199.87 333.25h2.9V372.75h-2.9zM1207.86 305.25h2.9V330.25h-2.9zM1215.85 228.5h2.9V303.5h-2.9zM1247.82 259h2.9V271.5h-2.9zM1255.81 214.5h2.9V256h-2.9zM1263.8 200.25h2.9V211.5h-2.9zM1279.79 244h2.9V246.75h-2.9zM1327.74 451.5h2.9V533.5h-2.9zM1343.72 415.75h2.9V460.25h-2.9zM1351.71 402.75h2.9V412.75h-2.9zM1367.7 345.25h2.9V426.5h-2.9zM1375.69 271h2.9V342.25h-2.9zM1399.67 307h2.9V308.5h-2.9zM1407.66 284.5h2.9V304h-2.9zM1423.64 303.5h2.9V355.5h-2.9zM1455.61 506h2.9V641.75h-2.9zM1463.6 428.5h2.9V503h-2.9zM1503.56 572.25h2.9V610.5h-2.9zM1519.55 556.5h2.9V567.5h-2.9zM1543.52 545.25h2.9V624.25h-2.9zM1551.51 530.25h2.9V542.25h-2.9zM1567.5 485.75h2.9V526h-2.9zM1607.46 576h2.9V591h-2.9zM1623.44 572.25h2.9V579.75h-2.9zM1647.42 766.5h2.9V826h-2.9zM1663.4 772.25h2.9V824.75h-2.9zM1679.39 749.5h2.9V801h-2.9zM1687.38 726.5h2.9V746.5h-2.9zM1727.34 969.75h2.9V974.25h-2.9zM1751.31 959.75h2.9V1054.25h-2.9zM1791.27 1060.25h2.9V1088.5h-2.9zM1799.27 981.5h2.9V1057.25h-2.9zM1807.26 976.5h2.9V978.5h-2.9zM1815.25 937.75h2.9V973.5h-2.9zM1863.2 979h2.9V1097.25h-2.9zM1871.19 921.5h2.9V976h-2.9zM1911.15 1032.25h2.9V1039.75h-2.9zM1919.15 986.5h2.9V1029.25h-2.9zM1951.11 1032.75h2.9V1038.5h-2.9zM1975.09 1074.5h2.9V1086h-2.9zM1999.07 1105.25h2.9V1175.5h-2.9zM2055.01 1149h2.9V1171h-2.9zM2063 1121.5h2.9V1146h-2.9zM2070.99 1116h2.9V1118.5h-2.9zM2086.98 1119.75h2.9V1136.5h-2.9zM2102.96 1099h2.9V1121h-2.9zM2110.95 1042.25h2.9V1096h-2.9zM2118.95 1031.5h2.9V1039.25h-2.9zM2126.94 1024.5h2.9V1028.5h-2.9zM2134.93 986.5h2.9V1021.5h-2.9zM2142.92 955.75h2.9V983.5h-2.9zM2158.91 982.75h2.9V999h-2.9zM2182.88 970.75h2.9V1005h-2.9zM2198.87 914.5h2.9V972.25h-2.9zM2206.86 903.5h2.9V911.5h-2.9zM2222.84 920.75h2.9V940.5h-2.9zM2262.8 1071h2.9V1108.5h-2.9z" fill="#2a68e6"/>

</g>
<g clip-path="url(#axclip)" fill="#19191e" font-size="24">
<text x="2452.44" y="90.55" textLength="75.57" lengthAdjust="spacingAndGlyphs">270.00</text>
<text x="2452.44" y="193.91" textLength="75.57" lengthAdjust="spacingAndGlyphs">250.00</text>
<text x="2452.44" y="305.89" textLength="75.57" lengthAdjust="spacingAndGlyphs">230.00</text>
<text x="2452.44" y="365.59" textLength="75.57" lengthAdjust="spacingAndGlyphs">220.00</text>
<text x="2452.44" y="428.06" textLength="75.57" lengthAdjust="spacingAndGlyphs">210.00</text>
<text x="2452.44" y="493.59" textLength="75.57" lengthAdjust="spacingAndGlyphs">200.00</text>
<text x="2452.05" y="562.48" textLength="75.97" lengthAdjust="spacingAndGlyphs">190.00</text>
<text x="2452.05" y="620.25" textLength="75.97" lengthAdjust="spacingAndGlyphs">182.00</text>
<text x="2452.05" y="680.62" textLength="75.97" lengthAdjust="spacingAndGlyphs">174.00</text>
<text x="2452.05" y="743.83" textLength="75.97" lengthAdjust="spacingAndGlyphs">166.00</text>
<text x="2452.05" y="810.16" textLength="75.97" lengthAdjust="spacingAndGlyphs">158.00</text>
<text x="2452.05" y="875.48" textLength="75.97" lengthAdjust="spacingAndGlyphs">150.50</text>
<text x="2452.05" y="948.83" textLength="75.97" lengthAdjust="spacingAndGlyphs">142.50</text>
<text x="2452.05" y="1006.61" textLength="75.97" lengthAdjust="spacingAndGlyphs">136.50</text>
<text x="2452.05" y="1066.97" textLength="75.97" lengthAdjust="spacingAndGlyphs">130.50</text>
<text x="2452.05" y="1130.19" textLength="75.97" lengthAdjust="spacingAndGlyphs">124.50</text>
<text x="2452.01" y="1196.52" textLength="76.03" lengthAdjust="spacingAndGlyphs">118.50</text>
<text x="2452.01" y="1254.42" textLength="76.03" lengthAdjust="spacingAndGlyphs">113.50</text>
<text x="2452.05" y="1314.92" textLength="75.97" lengthAdjust="spacingAndGlyphs">108.50</text>
</g>
<rect x="2443" y="45" width="96.5" height="36" rx="5" fill="#fefdfe" stroke="#f4f3f8" stroke-width="1.4"/>
<path d="M2438.2 894.4h97a3 3 0 0 1 3 3v27a3 3 0 0 1 -3 3h-97z" fill="#2a62fb"/>
<path d="M2438.2 1193h97a3 3 0 0 1 3 3v27a3 3 0 0 1 -3 3h-97z" fill="#2a62fb"/>
<g fill="#141418"><path d="M17 1394H33.9V1414.9H25.6V1401.7H17z"/><circle cx="41.4" cy="1397.9" r="4.1"/><path d="M47.4 1394H59.8L52 1414.9H41.4z"/></g>
<text x="14.43" y="28.5" font-size="17.8" fill="#19191e" textLength="545.91" lengthAdjust="spacingAndGlyphs">crispus9 created with TradingView.com, Jan 24, 2026 12:35 UTC+3</text>
<text x="25.95" y="67.25" font-size="17" fill="#19191e" textLength="280.35" lengthAdjust="spacingAndGlyphs">Solana / U.S. Dollar · 1D · Coinbase</text>
<text x="315.73" y="67.25" font-size="17" fill="#19191e" textLength="14.48" lengthAdjust="spacingAndGlyphs">O</text>
<text x="330.87" y="67.25" font-size="17" fill="#d9455a" textLength="50.4" lengthAdjust="spacingAndGlyphs">127.29</text>
<text x="390.96" y="67.25" font-size="17" fill="#19191e" textLength="14.25" lengthAdjust="spacingAndGlyphs">H</text>
<text x="405.16" y="67.25" font-size="17" fill="#d9455a" textLength="51.12" lengthAdjust="spacingAndGlyphs">127.92</text>
<text x="465.43" y="67.25" font-size="17" fill="#19191e" textLength="10.43" lengthAdjust="spacingAndGlyphs">L</text>
<text x="476.4" y="67.25" font-size="17" fill="#d9455a" textLength="53.84" lengthAdjust="spacingAndGlyphs">126.80</text>
<text x="539.75" y="67.25" font-size="17" fill="#19191e" textLength="13.08" lengthAdjust="spacingAndGlyphs">C</text>
<text x="553.3" y="67.25" font-size="17" fill="#d9455a" textLength="53.63" lengthAdjust="spacingAndGlyphs">126.94</text>
<text x="618.3" y="67.25" font-size="17" fill="#19191e" textLength="24.56" lengthAdjust="spacingAndGlyphs">Vol</text>
<text x="642.62" y="67.25" font-size="17" fill="#d9455a" textLength="62.86" lengthAdjust="spacingAndGlyphs">110.31K</text>
<text x="25.49" y="91.65" font-size="17" fill="#19191e" textLength="128.19" lengthAdjust="spacingAndGlyphs">EMA (50, close)</text>
<text x="163.62" y="91.65" font-size="17" fill="#3a6fe0" textLength="55.21" lengthAdjust="spacingAndGlyphs">136.05</text>
<text x="2455.54" y="69" font-size="17.6" fill="#19191e" textLength="35.85" lengthAdjust="spacingAndGlyphs">USD</text>
<text x="2453.67" y="919.25" font-size="24" fill="#ffffff" textLength="74.72" lengthAdjust="spacingAndGlyphs">145.69</text>
<text x="2453.64" y="1217.85" font-size="24" fill="#ffffff" textLength="74.38" lengthAdjust="spacingAndGlyphs">116.64</text>
<text x="124.4" y="1343.5" font-size="22.5" fill="#19191e" textLength="43.5" lengthAdjust="spacingAndGlyphs">May</text>
<text x="375.93" y="1343.5" font-size="22.5" fill="#19191e" textLength="38.1" lengthAdjust="spacingAndGlyphs">Jun</text>
<text x="619.73" y="1343.5" font-size="22.5" fill="#19191e" textLength="30.44" lengthAdjust="spacingAndGlyphs">Jul</text>
<text x="862.2" y="1343.5" font-size="22.5" fill="#19191e" textLength="41.41" lengthAdjust="spacingAndGlyphs">Aug</text>
<text x="1109.48" y="1343.5" font-size="22.5" fill="#19191e" textLength="41.06" lengthAdjust="spacingAndGlyphs">Sep</text>
<text x="1349.86" y="1343.5" font-size="22.5" fill="#19191e" textLength="37.86" lengthAdjust="spacingAndGlyphs">Oct</text>
<text x="1595.68" y="1343.5" font-size="22.5" fill="#19191e" textLength="41.52" lengthAdjust="spacingAndGlyphs">Nov</text>
<text x="1835.44" y="1343.5" font-size="22.5" fill="#19191e" textLength="42.33" lengthAdjust="spacingAndGlyphs">Dec</text>
<text x="2075.47" y="1343.9" font-size="24" fill="#19191e" font-weight="bold" textLength="59.09" lengthAdjust="spacingAndGlyphs">2026</text>
<text x="2332.92" y="1343.5" font-size="22.5" fill="#19191e" textLength="39.2" lengthAdjust="spacingAndGlyphs">Feb</text>
<text x="70.1" y="1414.9" font-size="27" fill="#141418" font-weight="bold" textLength="173.4" lengthAdjust="spacingAndGlyphs" stroke="#141418" stroke-width="0.7" stroke-linejoin="round">TradingView</text>
</svg>
</body>
</html>
